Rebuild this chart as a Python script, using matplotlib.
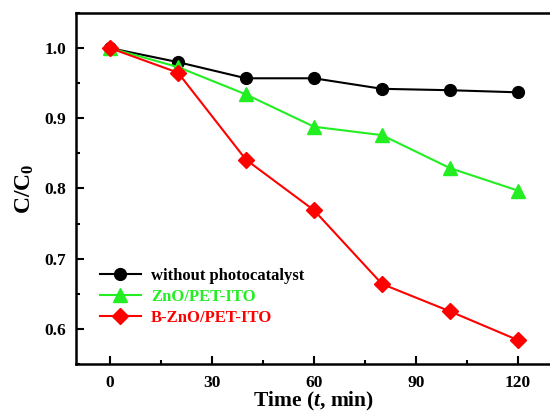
import matplotlib.pyplot as plt
from matplotlib.ticker import MultipleLocator

# time (min) and C/C0
time = [0, 20, 40, 60, 80, 100, 120]
no_cat = [1.0, 0.980, 0.957, 0.957, 0.942, 0.940, 0.937]
zno = [1.0, 0.973, 0.934, 0.888, 0.876, 0.829, 0.797]
bzno = [1.0, 0.965, 0.841, 0.769, 0.664, 0.625, 0.584]
labels = ['without photocatalyst', 'ZnO/PET-ITO', 'B-ZnO/PET-ITO']

plt.rcParams['font.family'] = ['Liberation Serif', 'DejaVu Serif']
plt.rcParams['font.weight'] = 'bold'
plt.rcParams['mathtext.fontset'] = 'custom'
plt.rcParams['mathtext.rm'] = 'Liberation Serif:bold'
plt.rcParams['mathtext.it'] = 'Liberation Serif:italic:bold'

fig = plt.figure(figsize=(5.5, 4.15), dpi=100)
ax = fig.add_axes([76/550, 1 - 364/415, 476/550, 351/415])

ax.plot(time, no_cat, color='black', marker='o', markersize=8.5, linewidth=1.5, label=labels[0])
ax.plot(time, zno, color='#22ee22', marker='^', markersize=9.5, linewidth=1.5, label=labels[1])
ax.plot(time, bzno, color='#ff0000', marker='D', markersize=8, linewidth=1.5, label=labels[2])

ax.set_xlim(-10, 130)
ax.set_ylim(0.55, 1.05)
ax.xaxis.set_major_locator(MultipleLocator(30))
ax.xaxis.set_minor_locator(MultipleLocator(15))
ax.yaxis.set_major_locator(MultipleLocator(0.1))
ax.yaxis.set_minor_locator(MultipleLocator(0.05))
ax.tick_params(which='both', direction='in', top=False, right=False, width=1.5, labelsize=12.5)
ax.tick_params(which='major', length=6)
ax.tick_params(which='minor', length=3)
ax.tick_params(axis='x', pad=8)
ax.tick_params(axis='y', pad=7)
ax.yaxis.set_major_formatter(plt.FormatStrFormatter('%.1f'))
for s in ax.spines.values():
    s.set_linewidth(1.8)

ax.set_xlabel(r'Time ($t$, min)', fontsize=15.5, fontweight='bold', labelpad=-1)
ax.set_ylabel(r'C/C$_0$', fontsize=17, fontweight='bold', labelpad=6)

leg = ax.legend(loc='lower left', bbox_to_anchor=(0.025, 0.075), frameon=False,
                prop={'weight': 'bold', 'size': 12}, handlelength=2.5,
                handletextpad=0.6, labelspacing=0.3, borderaxespad=0.3)
for txt, c in zip(leg.get_texts(), ['black', '#22ee22', '#ff0000']):
    txt.set_color(c)

fig.savefig('out.png', dpi=100)
